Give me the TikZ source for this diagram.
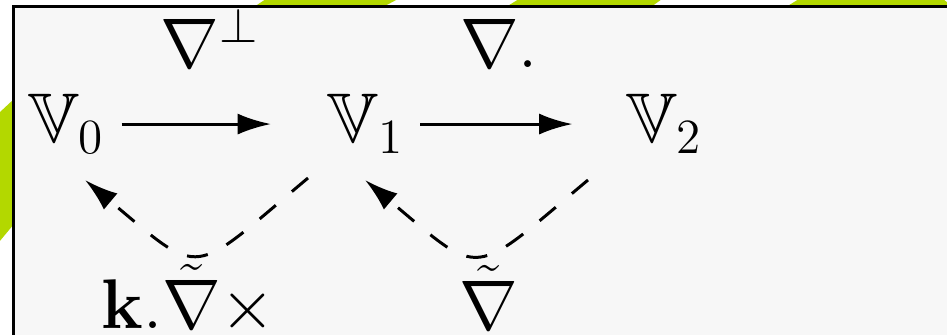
\RequirePackage{fix-cm}
\documentclass[tikz,border=0pt]{standalone}
\usepackage{amsmath,amssymb}
\usetikzlibrary{arrows.meta,calc}
\definecolor{slidegreen}{HTML}{B3D800}
\definecolor{panel}{HTML}{F7F7F7}
\tikzset{
  space/.style={inner sep=0pt,font=\fontsize{20}{24}\selectfont,anchor=base},
  opname/.style={inner sep=0pt,font=\fontsize{20}{24}\selectfont},
  map/.style={-{Latex[length=9.5pt,width=6pt]},line width=0.85pt},
  dualmap/.style={map,dash pattern=on 6pt off 6pt,out=220,in=-40,looseness=1.78}
}
\begin{document}
\begin{tikzpicture}
  \useasboundingbox (0,0) rectangle (9.47,-3.35);
  \clip (0,0) rectangle (9.47,-3.35);

  % slide background behind the panel
  \fill[white] (0,0) rectangle (9.47,-3.35);
  \fill[slidegreen] (-0.01,-1.13) -- (0.14,-0.99) -- (0.14,-2.24) -- (-0.01,-2.42) -- cycle;
  \fill[slidegreen] (2.54,-0.07) -- (2.66,0.01) -- (3.98,0.01) -- (3.83,-0.07) -- cycle;
  \fill[slidegreen] (5.06,-0.07) -- (5.19,0.01) -- (6.62,0.01) -- (6.51,-0.07) -- cycle;
  \fill[slidegreen] (7.86,-0.07) -- (7.99,0.01) -- (9.43,0.01) -- (9.48,-0.03) -- (9.48,-0.07) -- cycle;
  \draw[line width=0.85pt,fill=panel] (0.135,-0.065) rectangle (9.9,-3.6);

  % the three spaces
  \node[space] (V0) at (0.665,-1.43) {$\mathbb{V}_0$};
  \node[space] (V1) at (3.66,-1.43) {$\mathbb{V}_1$};
  \node[space] (V2) at (6.645,-1.43) {$\mathbb{V}_2$};

  \draw[map,shorten <=0.16cm,shorten >=0.56cm] (V0) -- node[opname,above=0.55cm,xshift=-0.065cm] {$\nabla^{\perp}$} (V1);
  \draw[map,shorten <=0.15cm,shorten >=0.53cm] (V1) -- node[opname,above=0.55cm,xshift=-0.16cm] {$\nabla.$} (V2);

  % dual maps
  \draw[dualmap] ($(V1.base)+(-0.58,-0.35)$) to node[opname,below=0.09cm,xshift=-0.08cm] {$\mathbf{k}.\tilde{\nabla}\times$} ($(V0.base)+(0.185,-0.37)$);
  \draw[dualmap] ($(V2.base)+(-0.765,-0.37)$) to node[opname,below=0.09cm,xshift=0.125cm] {$\tilde{\nabla}$} ($(V1.base)+(-0.01,-0.37)$);
\end{tikzpicture}
\end{document}
